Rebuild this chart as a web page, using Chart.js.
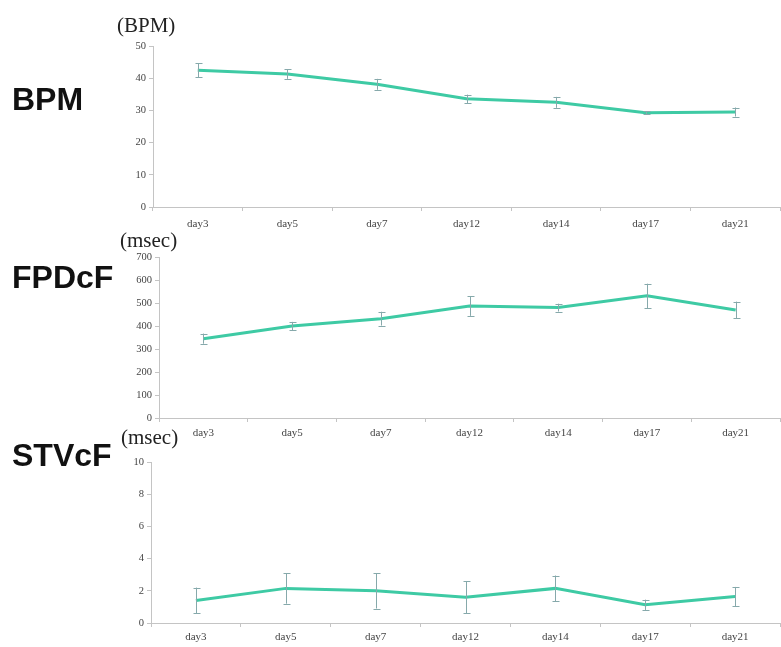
<!DOCTYPE html>
<html>
<head>
<meta charset="utf-8">
<script src="https://cdn.jsdelivr.net/npm/chart.js@4"></script>
<style>
  html, body { margin:0; padding:0; background:#fff; }
  body { width:781px; height:647px; position:relative; overflow:hidden; }
  .wrap { position:absolute; left:0; width:781px; }
  .big { position:absolute; left:12px; font-family:"Liberation Sans", Arial, sans-serif; font-weight:bold; font-size:32px; line-height:32px; color:#111; white-space:nowrap; }
  .unit { position:absolute; font-family:"Liberation Serif", "Times New Roman", serif; font-size:21px; line-height:22px; color:#222; white-space:nowrap; }
</style>
</head>
<body>
<div class="wrap" style="top:0;height:240px"><canvas id="c1"></canvas></div>
<div class="wrap" style="top:235px;height:210px"><canvas id="c2"></canvas></div>
<div class="wrap" style="top:445px;height:202px"><canvas id="c3"></canvas></div>

<div class="big" style="top:83px">BPM</div>
<div class="big" style="top:261px">FPDcF</div>
<div class="big" style="top:439px">STVcF</div>
<div class="unit" style="left:117px;top:14px">(BPM)</div>
<div class="unit" style="left:120px;top:229px">(msec)</div>
<div class="unit" style="left:121px;top:426px">(msec)</div>

<script>
// ---- data ----
const days = ['day3', 'day5', 'day7', 'day12', 'day14', 'day17', 'day21'];

const bpmMean = [42.5, 41.3, 38.1, 33.6, 32.5, 29.3, 29.5];
const bpmErr  = [2.2, 1.5, 1.7, 1.3, 1.7, 0.5, 1.4];
const bpmAxis = { max: 50, step: 10 };

const fpdMean = [345, 400, 432, 487, 480, 531, 470];
const fpdErr  = [22, 18, 30, 43, 17, 53, 36];
const fpdAxis = { max: 700, step: 100 };

const stvMean = [1.4, 2.15, 2.0, 1.6, 2.15, 1.13, 1.64];
const stvErr  = [0.8, 0.95, 1.1, 1.0, 0.8, 0.32, 0.6];
const stvAxis = { max: 10, step: 2 };

// ---- error bar plugin (uses chart scales) ----
const errorBars = {
  id: 'errorBars',
  afterDatasetsDraw(chart) {
    const ctx = chart.ctx;
    const ys = chart.scales.y;
    chart.data.datasets.forEach((ds, di) => {
      const meta = chart.getDatasetMeta(di);
      if (!ds.errors) return;
      ctx.save();
      ctx.strokeStyle = '#86a9ab';
      ctx.lineWidth = 1;
      meta.data.forEach((pt, i) => {
        const v = ds.data[i], e = ds.errors[i];
        const x = Math.round(pt.x) + 0.5;
        const yt = ys.getPixelForValue(v + e);
        const yb = ys.getPixelForValue(v - e);
        ctx.beginPath();
        ctx.moveTo(x, yt); ctx.lineTo(x, yb);
        ctx.moveTo(x - 3, Math.round(yt) + 0.5); ctx.lineTo(x + 4, Math.round(yt) + 0.5);
        ctx.moveTo(x - 3, Math.round(yb) + 0.5); ctx.lineTo(x + 4, Math.round(yb) + 0.5);
        ctx.stroke();
      });
      ctx.restore();
    });
  }
};

function makeChart(id, mean, err, axis, yWidth, padTop, xHeight, xPad) {
  return new Chart(document.getElementById(id), {
    type: 'line',
    data: {
      labels: days,
      datasets: [{
        data: mean,
        errors: err,
        borderColor: '#3ecaa4',
        borderWidth: 3,
        pointRadius: 0,
        tension: 0,
        fill: false
      }]
    },
    options: {
      responsive: true,
      maintainAspectRatio: false,
      animation: false,
      events: [],
      layout: { padding: { top: padTop, right: 1, left: 0, bottom: 0 } },
      plugins: { legend: { display: false }, tooltip: { enabled: false } },
      scales: {
        x: {
          type: 'category',
          offset: true,
          grid: { offset: true, drawOnChartArea: false, drawTicks: true, tickLength: 4, color: '#c4c4c4' },
          border: { color: '#c4c4c4', width: 1 },
          ticks: { color: '#444', padding: xPad, maxRotation: 0, autoSkip: false,
                   font: { family: '"Liberation Serif", "Times New Roman", serif', size: 11 } },
          afterFit(s) { s.height = xHeight; }
        },
        y: {
          min: 0, max: axis.max,
          grid: { drawOnChartArea: false, drawTicks: true, tickLength: 4, color: '#c4c4c4' },
          border: { color: '#c4c4c4', width: 1 },
          ticks: { stepSize: axis.step, color: '#444', padding: 3,
                   font: { family: '"Liberation Serif", "Times New Roman", serif', size: 10.5 } },
          afterFit(s) { s.width = yWidth; }
        }
      }
    },
    plugins: [errorBars]
  });
}

makeChart('c1', bpmMean, bpmErr, bpmAxis, 153, 46, 33, 7);
makeChart('c2', fpdMean, fpdErr, fpdAxis, 159, 22, 27, 5);
makeChart('c3', stvMean, stvErr, stvAxis, 151, 17, 24, 4);
</script>
</body>
</html>
